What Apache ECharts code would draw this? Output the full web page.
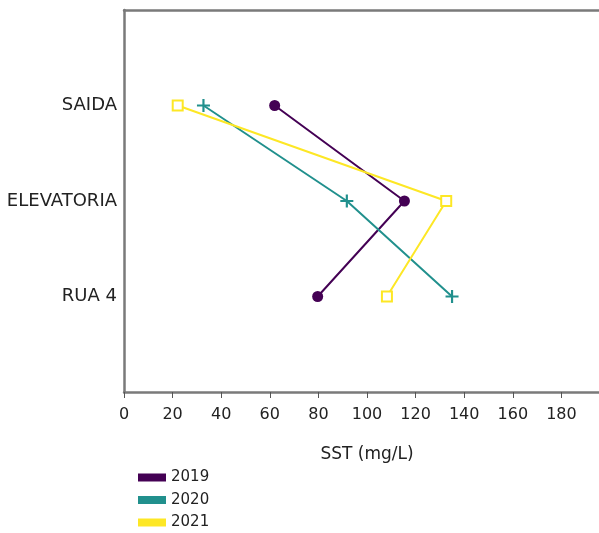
<!DOCTYPE html>
<html>
<head>
<meta charset="utf-8">
<script src="https://cdn.jsdelivr.net/npm/echarts@6/dist/echarts.min.js"></script>
<style>
html,body{margin:0;padding:0;background:#fff;overflow:hidden;width:599px;height:533px;}
#chart{width:611px;height:560px;}
</style>
</head>
<body>
<div id="chart"></div>
<script>
var categories = ['', 'SAIDA', 'ELEVATORIA', 'RUA 4', ''];
var sites = ['SAIDA', 'ELEVATORIA', 'RUA 4'];
var years = ['2019', '2020', '2021'];
var values2019 = [62, 115.4, 79.7];
var values2020 = [32.7, 91.7, 135];
var values2021 = [22.1, 132.6, 108.2];
var xTicks = [0, 20, 40, 60, 80, 100, 120, 140, 160, 180, 200];

var colors = ['#440154', '#21908d', '#fde725'];
var plusPath = 'path://M5,0h2v5h5v2h-5v5h-2v-5h-5v-2h5z';

function pairs(vals) {
  return sites.map(function (s, i) { return [vals[i], s]; });
}

var chart = echarts.init(document.getElementById('chart'));
var font = '"DejaVu Sans", sans-serif';
var axisGray = '#7a7a7a';
chart.setOption({
  animation: false,
  textStyle: { fontFamily: font },
  grid: { left: 124, top: 10, right: 1, bottom: 168, containLabel: false, outerBoundsMode: 'none' },
  xAxis: [{
    type: 'value',
    min: xTicks[0],
    max: xTicks[xTicks.length - 1],
    interval: xTicks[1] - xTicks[0],
    name: 'SST (mg/L)',
    nameLocation: 'middle',
    nameGap: 54,
    nameTextStyle: { color: '#222', fontSize: 17, fontFamily: font },
    axisLine: { show: true, lineStyle: { color: axisGray, width: 2.5 } },
    axisTick: { show: true, length: 6, lineStyle: { color: '#555', width: 1 } },
    axisLabel: { color: '#222', fontSize: 16, margin: 15, fontFamily: font, showMaxLabel: false },
    splitLine: { show: false }
  }, {
    type: 'value',
    position: 'top',
    min: xTicks[0],
    max: xTicks[xTicks.length - 1],
    axisLine: { show: true, lineStyle: { color: axisGray, width: 2.5 } },
    axisTick: { show: false },
    axisLabel: { show: false },
    splitLine: { show: false }
  }],
  yAxis: {
    type: 'category',
    data: categories,
    inverse: true,
    boundaryGap: false,
    axisLine: { show: true, lineStyle: { color: axisGray, width: 2.5 } },
    axisTick: { show: false },
    axisLabel: { color: '#222', fontSize: 18, margin: 7, fontFamily: font },
    splitLine: { show: false }
  },
  legend: {
    orient: 'vertical',
    left: 138,
    top: 470,
    padding: 0,
    itemWidth: 28,
    itemHeight: 8,
    itemGap: 7.5,
    textStyle: { color: '#222', fontSize: 15, fontFamily: font },
    data: years.map(function (y, i) {
      return { name: y, icon: 'rect', itemStyle: { color: colors[i], borderWidth: 0 } };
    })
  },
  series: [{
    name: years[0],
    type: 'line',
    data: pairs(values2019),
    symbol: 'circle',
    symbolSize: 11,
    lineStyle: { color: colors[0], width: 2 },
    itemStyle: { color: colors[0] }
  }, {
    name: years[1],
    type: 'line',
    data: pairs(values2020),
    symbol: plusPath,
    symbolSize: 13,
    lineStyle: { color: colors[1], width: 2 },
    itemStyle: { color: colors[1] }
  }, {
    name: years[2],
    type: 'line',
    data: pairs(values2021),
    symbol: 'rect',
    symbolSize: 10,
    lineStyle: { color: colors[2], width: 2 },
    itemStyle: { color: '#fff', borderColor: colors[2], borderWidth: 2 }
  }]
});
</script>
</body>
</html>
